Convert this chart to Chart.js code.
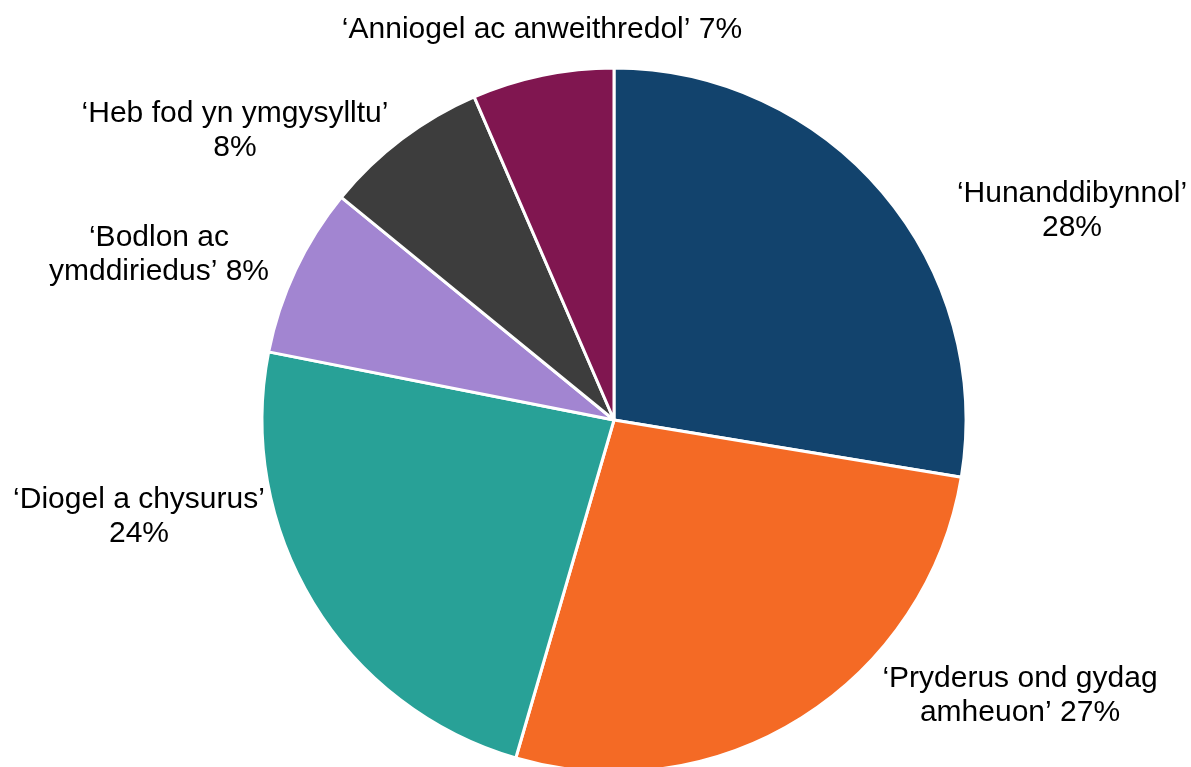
<!DOCTYPE html>
<html>
<head>
<meta charset="utf-8">
<script src="https://cdn.jsdelivr.net/npm/chart.js@4/dist/chart.umd.min.js"></script>
<style>
    html, body { margin: 0; padding: 0; background: #ffffff; overflow: hidden; }
    #wrap { position: absolute; left: 0; top: 0; width: 1191px; height: 840px; }
</style>
</head>
<body>
<div id="wrap"><canvas id="pieChart" width="1191" height="840"></canvas></div>
<script>
// categories and shares (%), clockwise from 12 o'clock
const categories = [
    '‘Hunanddibynnol’',
    '‘Pryderus ond gydag amheuon’',
    '‘Diogel a chysurus’',
    '‘Bodlon ac ymddiriedus’',
    '‘Heb fod yn ymgysylltu’',
    '‘Anniogel ac anweithredol’'
];
const shares = [27.6, 26.9, 23.6, 7.8, 7.6, 6.5];
const sliceColours = ['#12436D', '#F46A25', '#28A197', '#A285D1', '#3D3D3D', '#801650'];

// where each label sits: centre x, first baseline y, wrap width
const labelSpots = [
    { x: 1072, y: 202, wrap: 250 },
    { x: 1020, y: 687, wrap: 290 },
    { x: 139, y: 508, wrap: 270 },
    { x: 159, y: 246, wrap: 230 },
    { x: 235, y: 122, wrap: 310 },
    { x: 542, y: 38, wrap: 420 }
];

const FONT = '30px "Liberation Sans", Arial, sans-serif';
const LINE_H = 34;

function wrapText(ctx, text, maxWidth) {
    const words = text.split(' ');
    const lines = [];
    let cur = '';
    words.forEach(function (w) {
        const test = cur ? cur + ' ' + w : w;
        if (cur && ctx.measureText(test).width > maxWidth) {
            lines.push(cur);
            cur = w;
        } else {
            cur = test;
        }
    });
    if (cur) lines.push(cur);
    return lines;
}

// draws the category + percentage labels outside the pie
const outsideLabels = {
    id: 'outsideLabels',
    afterDraw(chart) {
        const ctx = chart.ctx;
        const ds = chart.data.datasets[0];
        ctx.save();
        ctx.font = FONT;
        ctx.fillStyle = '#000000';
        ctx.textAlign = 'center';
        ctx.textBaseline = 'alphabetic';
        chart.data.labels.forEach(function (label, i) {
            const spot = labelSpots[i];
            const text = label + ' ' + Math.round(ds.data[i]) + '%';
            const lines = wrapText(ctx, text, spot.wrap);
            lines.forEach(function (line, j) {
                ctx.fillText(line, spot.x, spot.y + j * LINE_H);
            });
        });
        ctx.restore();
    }
};

const pieCtx = document.getElementById('pieChart').getContext('2d');
const pieChart = new Chart(pieCtx, {
    type: 'pie',
    data: {
        labels: categories,
        datasets: [{
            data: shares,
            backgroundColor: sliceColours,
            borderColor: '#ffffff',
            borderWidth: 3
        }]
    },
    options: {
        responsive: false,
        animation: false,
        radius: 352,
        layout: {
            padding: { top: 68, bottom: 68, left: 263, right: 226 }
        },
        plugins: {
            legend: { display: false },
            tooltip: { enabled: false }
        }
    },
    plugins: [outsideLabels]
});
</script>
</body>
</html>
